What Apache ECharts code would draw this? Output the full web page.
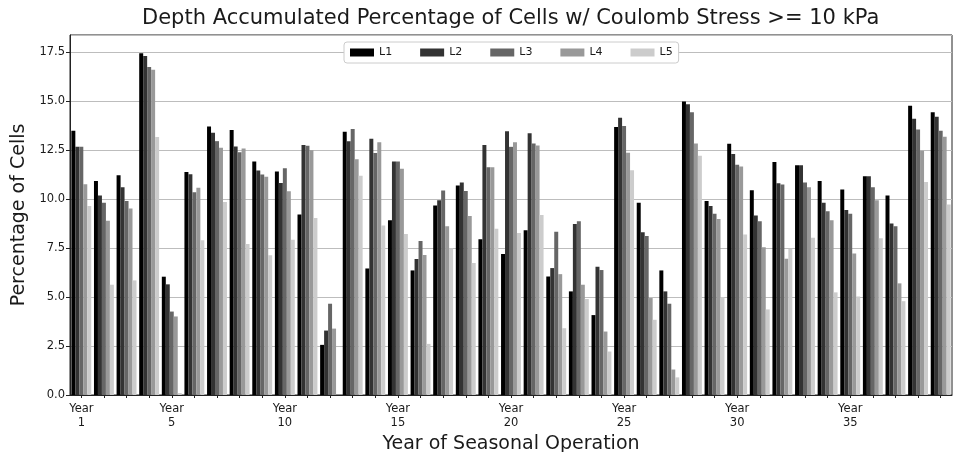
<!DOCTYPE html>
<html>
<head>
<meta charset="utf-8">
<script src="https://cdn.jsdelivr.net/npm/echarts@6/dist/echarts.min.js"></script>
<style>
  html, body { margin: 0; padding: 0; background: #fff; }
  #chart { width: 955px; height: 452px; }
</style>
</head>
<body>
<div id="chart"></div>
<script>
// Years of seasonal operation (one bar group per year)
const years = [];
for (let y = 1; y <= 39; y++) years.push(y);

// Years that get a tick label
const labeledYears = [1, 5, 10, 15, 20, 25, 30, 35];

// Series names and bar colours (greyscale)
const seriesNames = ['L1', 'L2', 'L3', 'L4', 'L5'];
const seriesColors = ['#000000', '#333333', '#666666', '#999999', '#cccccc'];

// Percentage of cells with Coulomb stress >= 10 kPa, per layer
const L1 = [13.49, 10.93, 11.22, 17.45, 6.04, 11.39, 13.71, 13.53, 11.92, 11.41,
            9.21, 2.56, 13.44, 6.46, 8.92, 6.36, 9.67, 10.69, 7.95, 7.20,
            8.41, 6.05, 5.29, 4.08, 13.68, 9.82, 6.36, 14.99, 9.91, 12.83,
            10.46, 11.90, 11.73, 10.92, 10.49, 11.17, 10.18, 14.77, 14.43];
const L2 = [12.67, 10.18, 10.61, 17.31, 5.65, 11.27, 13.39, 12.69, 11.46, 10.83,
            12.76, 3.29, 12.95, 13.08, 11.92, 6.94, 9.94, 10.85, 12.76, 13.46,
            13.37, 6.48, 8.73, 6.55, 14.16, 8.31, 5.29, 14.84, 9.65, 12.30,
            9.16, 10.81, 11.73, 9.81, 9.45, 11.17, 8.75, 14.11, 14.21];
const L3 = [12.67, 9.82, 9.91, 16.75, 4.26, 10.35, 12.96, 12.40, 11.26, 11.58,
            12.72, 4.66, 13.58, 12.35, 11.92, 7.86, 10.44, 10.42, 11.63, 12.67,
            12.84, 8.34, 8.87, 6.38, 13.73, 8.12, 4.66, 14.43, 9.26, 11.75,
            8.87, 10.75, 10.85, 9.38, 9.26, 10.61, 8.61, 13.56, 13.49];
const L4 = [10.76, 8.90, 9.52, 16.61, 4.01, 10.58, 12.62, 12.59, 11.14, 10.40,
            12.50, 3.39, 12.03, 12.91, 11.55, 7.15, 8.61, 9.14, 11.63, 12.91,
            12.74, 6.17, 5.63, 3.24, 12.37, 4.95, 1.30, 12.84, 8.98, 11.67,
            7.54, 6.96, 10.61, 8.92, 7.23, 9.94, 5.70, 12.47, 13.18];
const L5 = [9.65, 5.63, 5.85, 13.17, 0.10, 7.90, 9.86, 7.71, 7.13, 7.93,
            9.04, 0.00, 11.19, 8.66, 8.22, 2.61, 7.49, 6.74, 8.49, 8.27,
            9.19, 3.41, 4.90, 2.22, 11.48, 3.84, 0.90, 12.21, 5.00, 8.20,
            4.37, 7.47, 8.03, 5.24, 5.03, 8.00, 4.79, 10.88, 9.72];

const layers = [L1, L2, L3, L4, L5];

const FONT = 'DejaVu Sans';
const TITLE = 'Depth Accumulated Percentage of Cells w/ Coulomb Stress >= 10 kPa';
const TITLE_SIZE = 21;

// Centre the title over the plot area rather than the whole canvas
const GRID_LEFT = 70, GRID_RIGHT = 3, CHART_W = 955;
const plotCenter = GRID_LEFT + (CHART_W - GRID_LEFT - GRID_RIGHT) / 2;
const ctx = document.createElement('canvas').getContext('2d');
ctx.font = TITLE_SIZE + 'px "' + FONT + '"';
const titleWidth = ctx.measureText(TITLE).width;

const chart = echarts.init(document.getElementById('chart'), null, { renderer: 'canvas' });

chart.setOption({
  backgroundColor: '#ffffff',
  animation: false,
  textStyle: { fontFamily: FONT },
  title: {
    text: TITLE,
    left: Math.round(plotCenter - titleWidth / 2),
    top: 8,
    padding: 0,
    textStyle: { fontFamily: FONT, fontSize: TITLE_SIZE, fontWeight: 'normal', color: '#1a1a1a' }
  },
  legend: {
    data: seriesNames,
    left: 344,
    top: 42,
    itemWidth: 24,
    itemHeight: 8,
    itemGap: 28,
    padding: [5, 6, 5, 6],
    backgroundColor: '#ffffff',
    borderColor: '#cccccc',
    borderWidth: 1,
    borderRadius: 3,
    icon: 'rect',
    textStyle: { fontFamily: FONT, fontSize: 11, color: '#1a1a1a' },
    z: 10
  },
  grid: {
    left: GRID_LEFT,
    right: GRID_RIGHT,
    top: 35,
    bottom: 57,
    show: true,
    borderColor: '#222222',
    borderWidth: 1,
    containLabel: false,
    outerBoundsMode: 'none'
  },
  xAxis: {
    type: 'category',
    data: years,
    name: 'Year of Seasonal Operation',
    nameLocation: 'middle',
    nameGap: 36,
    nameTextStyle: { fontFamily: FONT, fontSize: 19, color: '#1a1a1a' },
    axisLine: { show: true, lineStyle: { color: '#222222', width: 1 } },
    axisTick: {
      show: true,
      interval: 0,
      alignWithLabel: true,
      length: 3,
      lineStyle: { color: '#222222' }
    },
    axisLabel: {
      interval: function (index, value) {
        return labeledYears.indexOf(Number(value)) !== -1;
      },
      formatter: function (value) { return 'Year\n' + value; },
      fontFamily: FONT,
      fontSize: 11.5,
      lineHeight: 14,
      color: '#1a1a1a',
      margin: 7
    },
    splitLine: { show: false }
  },
  yAxis: {
    type: 'value',
    min: 0,
    max: 18.38,
    interval: 2.5,
    name: 'Percentage of Cells',
    nameLocation: 'middle',
    nameGap: 35,
    nameTextStyle: { fontFamily: FONT, fontSize: 19, color: '#1a1a1a' },
    axisLine: { show: true, lineStyle: { color: '#222222', width: 1 } },
    axisTick: { show: true, length: 4, lineStyle: { color: '#222222' } },
    axisLabel: {
      showMaxLabel: false,
      fontFamily: FONT,
      fontSize: 11.5,
      color: '#1a1a1a',
      margin: 5,
      formatter: function (v) {
        return Math.abs(v / 2.5 - Math.round(v / 2.5)) < 1e-6 ? v.toFixed(1) : '';
      }
    },
    splitLine: { show: true, lineStyle: { color: '#bdbdbd', width: 1 } }
  },
  series: seriesNames.map(function (name, i) {
    return {
      name: name,
      type: 'bar',
      data: layers[i],
      barGap: '0%',
      barCategoryGap: '12%',
      itemStyle: { color: seriesColors[i] }
    };
  })
});
</script>
</body>
</html>
